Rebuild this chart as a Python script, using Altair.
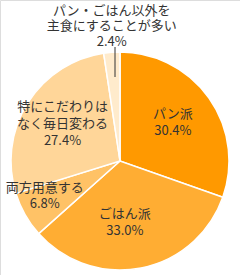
import altair as alt
import pandas as pd

categories = ["パン派", "ごはん派", "両方用意する", "特にこだわりはなく毎日変わる", "パン・ごはん以外を主食にすることが多い"]
label_lines = ["パン派", "ごはん派", "両方用意する", "特にこだわりは\nなく毎日変わる", "パン・ごはん以外を\n主食にすることが多い"]
values = [30.4, 33.0, 6.8, 27.4, 2.4]
palette = ["#FF9900", "#FFAD33", "#FFC266", "#FFD699", "#FFEBCC"]

df = pd.DataFrame({
    "category": categories,
    "label": label_lines,
    "value": values,
    "order": list(range(len(categories))),
})

CX, CY, R = 120, 161, 109
FONT = "Noto Sans CJK JP"

pie = alt.Chart(df).mark_arc(radius=R, stroke="white", strokeWidth=1.5).encode(
    theta=alt.Theta("value:Q", stack=True),
    order=alt.Order("order:Q", sort="ascending"),
    color=alt.Color("category:N", scale=alt.Scale(domain=categories, range=palette), legend=None),
    x=alt.value(CX),
    y=alt.value(CY),
)

text_base = (
    alt.Chart(df)
    .transform_joinaggregate(total="sum(value)")
    .transform_window(cum="sum(value)", sort=[alt.SortField("order", order="ascending")])
    .transform_calculate(
        mid="(datum.cum - datum.value / 2) / datum.total * 2 * PI",
        txt="datum.label + '\\n' + format(datum.value, '.1f') + '%'",
    )
)

# (category, radius, dx, dy, lineHeight)
label_cfg = [
    (categories[0], 66, -1, -9, 17),
    (categories[1], 61, -7, -7, 17),
    (categories[2], 83, -3, -13.5, 16),
    (categories[3], 69, 1, -17.5, 17),
    (categories[4], 136, 2, -14.5, 15.5),
]

text_layers = []
for cat, rad, dx, dy, lh in label_cfg:
    text_layers.append(
        text_base.transform_filter(alt.datum.category == cat)
        .mark_text(
            radius=rad, dx=dx, dy=dy, font=FONT, fontSize=13, color="#333333",
            lineBreak="\n", lineHeight=lh, align="center", baseline="middle",
        )
        .encode(
            theta=alt.Theta("mid:Q", scale=None),
            text="txt:N",
            x=alt.value(CX),
            y=alt.value(CY),
        )
    )

leader = alt.Chart(df).mark_rule(color="#333333", strokeWidth=1).encode(
    x=alt.value(115), y=alt.value(47), y2=alt.value(77)
).transform_filter(alt.datum.order == 4)

chart = (
    alt.layer(pie, leader, *text_layers)
    .resolve_scale(theta="independent")
    .properties(width=240, height=275, autosize=alt.AutoSizeParams(type="none"), padding=0)
    .configure_view(stroke=None)
    .configure(background="white")
)

chart.save("out.html", embed_options={"renderer": "svg", "actions": False})
